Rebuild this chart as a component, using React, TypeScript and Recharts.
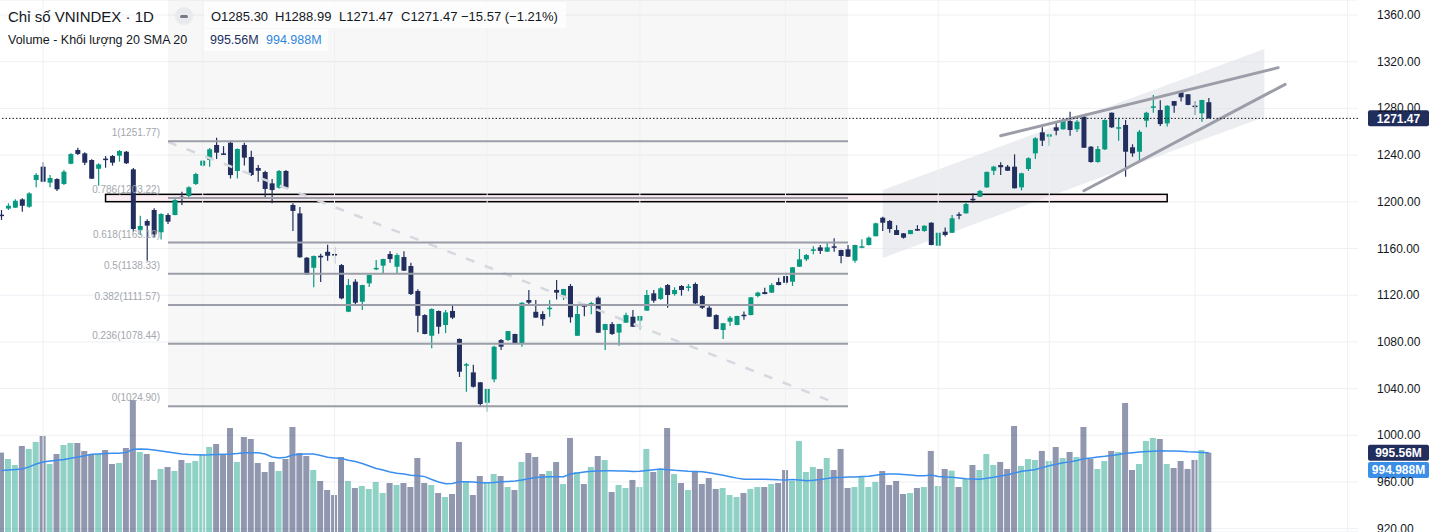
import React from 'react';
import {
  ComposedChart,
  Bar,
  Line,
  XAxis,
  YAxis,
  CartesianGrid,
  ReferenceLine,
  ReferenceArea,
  Cell,
} from 'recharts';

const UP = '#089981';
const DOWN = '#222f5e';
const FONT = '"Liberation Sans", Arial, sans-serif';

// daily candles, oldest first
const opens = [
  1189.0, 1194.2, 1195.0, 1202.1, 1195.8, 1218.7, 1230.1, 1216.4, 1219.5, 1215.3,
  1232.6, 1244.4, 1241.5, 1235.8, 1228.3, 1237.0, 1239.2, 1239.5, 1242.9, 1227.8,
  1176.0, 1183.6, 1193.0, 1173.9, 1188.7, 1188.7, 1204.4, 1205.0, 1215.3, 1231.0,
  1235.8, 1248.7, 1241.5, 1250.6, 1226.4, 1248.7, 1238.4, 1229.0, 1225.5, 1215.8,
  1212.1, 1226.4, 1197.3, 1190.1, 1152.1, 1143.5, 1153.8, 1157.2, 1155.3, 1145.8,
  1105.9, 1131.6, 1114.4, 1130.2, 1142.8, 1145.3, 1155.3, 1144.4, 1152.7, 1145.0,
  1123.6, 1103.0, 1085.3, 1106.5, 1094.5, 1106.5, 1082.5, 1060.4, 1053.9, 1045.4,
  1027.9, 1047.9, 1081.6, 1081.6, 1086.8, 1078.2, 1115.9, 1105.8, 1103.9, 1108.8,
  1124.5, 1119.6, 1127.9, 1085.3, 1112.4, 1111.3, 1117.9, 1090.2, 1095.3, 1088.0,
  1096.5, 1101.6, 1098.2, 1106.8, 1121.6, 1116.8, 1128.7, 1121.0, 1127.9, 1126.9,
  1129.6, 1119.3, 1109.3, 1103.0, 1090.2, 1097.3, 1094.5, 1103.3, 1103.0, 1119.3,
  1122.7, 1122.2, 1131.3, 1136.4, 1131.6, 1144.4, 1150.7, 1158.7, 1161.0, 1157.3,
  1161.9, 1158.7, 1159.3, 1149.6, 1161.3, 1163.0, 1170.5, 1186.4, 1183.6, 1175.8,
  1173.0, 1172.4, 1176.7, 1175.0, 1182.1, 1162.4, 1174.4, 1173.5, 1189.3, 1190.1,
  1202.6, 1204.4, 1212.4, 1226.6, 1231.5, 1230.1, 1230.1, 1212.4, 1228.1, 1241.5,
  1259.5, 1255.8, 1263.8, 1262.1, 1269.2, 1262.1, 1272.9, 1247.2, 1234.1, 1244.9,
  1276.3, 1263.5, 1265.8, 1246.7, 1242.9, 1269.5, 1281.3, 1278.6, 1267.2, 1286.3,
  1293.8, 1292.1, 1282.4, 1275.8, 1285.3,
];

const highs = [
  1193.0, 1198.7, 1202.1, 1203.0, 1208.1, 1224.4, 1233.8, 1223.0, 1220.1, 1227.2,
  1241.5, 1246.3, 1242.4, 1236.4, 1233.0, 1239.2, 1240.1, 1244.4, 1243.5, 1229.0,
  1188.1, 1185.0, 1194.4, 1190.1, 1190.1, 1202.6, 1208.6, 1213.4, 1224.9, 1235.8,
  1246.0, 1254.9, 1247.7, 1252.2, 1245.8, 1250.6, 1243.7, 1231.5, 1226.6, 1219.5,
  1227.2, 1227.2, 1198.7, 1195.6, 1152.7, 1154.0, 1155.5, 1163.2, 1161.4, 1146.8,
  1133.9, 1133.6, 1128.9, 1137.5, 1150.2, 1151.3, 1157.6, 1156.0, 1157.6, 1147.9,
  1125.1, 1103.6, 1108.8, 1107.0, 1107.3, 1111.6, 1083.0, 1061.9, 1060.4, 1045.7,
  1039.9, 1076.8, 1082.5, 1089.4, 1087.0, 1113.9, 1124.5, 1115.9, 1106.2, 1115.9,
  1133.0, 1125.5, 1129.6, 1111.0, 1112.6, 1114.5, 1119.0, 1095.5, 1097.0, 1095.5,
  1105.0, 1107.3, 1102.4, 1124.5, 1124.5, 1126.8, 1129.6, 1126.8, 1128.7, 1129.6,
  1131.0, 1120.2, 1112.1, 1103.6, 1096.3, 1102.1, 1102.4, 1106.1, 1118.5, 1123.0,
  1126.5, 1130.2, 1135.0, 1139.5, 1144.2, 1159.6, 1155.3, 1162.0, 1163.0, 1165.3,
  1168.7, 1158.9, 1163.0, 1163.2, 1168.0, 1170.2, 1182.1, 1187.3, 1184.4, 1180.0,
  1173.2, 1175.9, 1180.0, 1180.0, 1182.4, 1173.6, 1178.0, 1188.7, 1191.0, 1199.2,
  1207.3, 1210.1, 1226.0, 1230.9, 1233.8, 1231.5, 1240.7, 1225.0, 1238.2, 1255.3,
  1263.8, 1258.6, 1267.7, 1271.0, 1277.2, 1270.1, 1273.5, 1247.8, 1247.7, 1270.7,
  1276.4, 1272.0, 1270.1, 1249.3, 1261.5, 1277.2, 1291.5, 1287.0, 1282.8, 1286.4,
  1294.4, 1292.3, 1286.3, 1287.4, 1288.99,
];

const lows = [
  1184.4, 1193.0, 1194.6, 1191.5, 1195.0, 1212.4, 1216.9, 1212.4, 1209.3, 1214.4,
  1232.1, 1240.1, 1231.5, 1219.5, 1213.8, 1229.2, 1231.0, 1234.4, 1232.4, 1174.4,
  1171.6, 1149.6, 1169.6, 1167.8, 1181.0, 1188.4, 1197.3, 1204.1, 1214.4, 1230.1,
  1230.1, 1236.6, 1240.1, 1220.0, 1220.0, 1231.0, 1222.2, 1217.2, 1203.6, 1198.7,
  1211.5, 1211.5, 1175.0, 1152.0, 1137.3, 1126.8, 1131.3, 1149.6, 1147.0, 1116.5,
  1105.5, 1112.5, 1107.3, 1127.0, 1141.4, 1138.2, 1147.9, 1138.5, 1140.8, 1120.2,
  1088.2, 1086.5, 1074.5, 1087.0, 1087.6, 1099.6, 1050.0, 1037.4, 1041.0, 1024.9,
  1020.2, 1045.4, 1073.1, 1080.8, 1078.6, 1075.9, 1111.6, 1100.6, 1093.9, 1101.6,
  1116.4, 1115.9, 1096.5, 1085.0, 1102.0, 1103.6, 1087.6, 1073.1, 1085.9, 1076.8,
  1096.3, 1092.8, 1090.2, 1106.6, 1113.6, 1116.0, 1109.3, 1119.6, 1119.6, 1123.4,
  1111.6, 1108.2, 1101.4, 1090.8, 1082.5, 1093.6, 1094.3, 1099.0, 1102.8, 1118.2,
  1120.8, 1122.0, 1128.5, 1128.7, 1127.9, 1144.2, 1149.3, 1155.0, 1155.3, 1157.0,
  1157.3, 1147.3, 1152.7, 1147.9, 1160.2, 1162.5, 1170.4, 1175.0, 1173.6, 1171.5,
  1168.5, 1172.2, 1175.1, 1174.4, 1162.9, 1162.2, 1170.2, 1173.3, 1185.1, 1189.9,
  1199.3, 1204.2, 1211.8, 1222.9, 1222.9, 1226.4, 1211.4, 1209.8, 1226.4, 1236.6,
  1247.7, 1247.8, 1257.1, 1261.9, 1256.6, 1259.9, 1246.1, 1233.5, 1233.5, 1244.3,
  1263.2, 1252.3, 1221.5, 1238.6, 1235.2, 1263.8, 1276.3, 1264.9, 1264.4, 1276.3,
  1285.9, 1282.8, 1274.4, 1268.6, 1271.47,
];

const closes = [
  1188.4, 1196.6, 1200.9, 1196.6, 1207.2, 1223.0, 1217.2, 1220.4, 1210.7, 1225.8,
  1240.9, 1241.0, 1233.5, 1219.8, 1232.1, 1236.4, 1233.5, 1243.5, 1233.0, 1176.7,
  1179.3, 1179.6, 1172.2, 1189.6, 1183.0, 1201.5, 1203.6, 1212.4, 1223.8, 1235.2,
  1245.0, 1242.1, 1240.7, 1222.9, 1245.2, 1237.8, 1223.0, 1226.6, 1211.0, 1210.1,
  1226.4, 1212.1, 1192.2, 1152.5, 1137.9, 1153.6, 1152.4, 1153.8, 1154.7, 1117.3,
  1128.7, 1113.6, 1128.7, 1137.3, 1143.4, 1151.0, 1151.0, 1154.4, 1141.0, 1121.0,
  1102.4, 1086.8, 1108.2, 1093.0, 1105.3, 1100.8, 1054.5, 1060.9, 1041.6, 1026.8,
  1039.7, 1075.9, 1075.9, 1089.3, 1078.8, 1113.6, 1113.6, 1100.8, 1099.4, 1109.3,
  1122.2, 1125.3, 1101.1, 1103.9, 1110.1, 1113.3, 1087.9, 1095.3, 1086.8, 1095.3,
  1103.0, 1093.0, 1102.2, 1120.2, 1115.3, 1125.9, 1120.2, 1124.5, 1124.5, 1127.5,
  1113.0, 1109.3, 1101.6, 1091.0, 1096.0, 1100.7, 1102.2, 1102.9, 1118.2, 1122.2,
  1121.0, 1128.7, 1128.7, 1130.7, 1143.9, 1150.7, 1154.4, 1159.3, 1158.0, 1161.0,
  1161.4, 1153.6, 1153.0, 1163.0, 1161.9, 1169.3, 1181.6, 1182.1, 1176.7, 1171.6,
  1169.3, 1175.8, 1175.3, 1179.5, 1163.0, 1173.5, 1171.6, 1185.9, 1188.9, 1198.1,
  1202.2, 1209.3, 1225.6, 1230.1, 1229.6, 1226.6, 1211.6, 1224.4, 1237.3, 1254.4,
  1252.4, 1257.8, 1260.9, 1270.1, 1261.5, 1268.6, 1246.3, 1234.1, 1245.2, 1270.1,
  1263.8, 1263.9, 1242.9, 1241.5, 1260.0, 1276.3, 1281.8, 1266.6, 1282.3, 1282.3,
  1289.5, 1283.0, 1282.0, 1287.2, 1271.47,
];

// volume in millions of shares
const volumes = [
  996, 916, 841, 1079, 1042, 1130, 1205, 853, 979, 1092,
  1117, 1117, 1017, 979, 979, 1029, 853, 866, 1054, 1657,
  1004, 979, 653, 791, 816, 766, 904, 866, 891, 979,
  1067, 1104, 979, 1305, 879, 1192, 1167, 866, 753, 879,
  766, 916, 1318, 991, 954, 778, 640, 527, 464, 941,
  640, 552, 577, 540, 628, 489, 615, 590, 615, 565,
  929, 615, 590, 489, 439, 477, 1130, 640, 464, 703,
  615, 728, 703, 565, 527, 879, 991, 941, 728, 766,
  879, 602, 1180, 753, 602, 816, 954, 904, 502, 590,
  552, 653, 565, 1042, 753, 778, 1305, 728, 615, 527,
  766, 602, 678, 540, 552, 464, 439, 489, 540, 565,
  565, 602, 615, 778, 640, 1142, 753, 816, 791, 929,
  778, 1042, 552, 565, 690, 565, 628, 766, 590, 640,
  477, 489, 552, 565, 1017, 577, 791, 770, 565, 665,
  841, 778, 979, 841, 879, 791, 1330, 828, 916, 904,
  1017, 891, 1067, 929, 1004, 941, 1318, 916, 791, 891,
  1017, 1004, 1619, 778, 853, 1142, 1180, 1167, 853, 803,
  891, 791, 904, 1029, 995.56,
];

// 20-day SMA of volume
const volumeSma = [
  771, 778, 783, 791, 817, 853, 879, 891, 900, 909,
  925, 941, 958, 975, 979, 984, 988, 988, 999, 1038,
  1042, 1037, 1028, 1017, 1004, 991, 979, 973, 969, 966,
  968, 974, 976, 979, 985, 993, 995, 993, 979, 941,
  929, 939, 966, 975, 979, 979, 960, 937, 929, 921,
  901, 884, 860, 828, 798, 778, 753, 737, 727, 713,
  707, 695, 659, 628, 607, 610, 630, 631, 628, 619,
  619, 621, 630, 635, 640, 653, 669, 684, 690, 694,
  694, 694, 728, 740, 754, 761, 766, 768, 769, 767,
  764, 758, 762, 773, 782, 789, 782, 774, 768, 762,
  759, 757, 744, 729, 712, 694, 676, 661, 661, 661,
  661, 660, 655, 654, 659, 653, 643, 649, 659, 671,
  683, 685, 689, 690, 695, 701, 712, 724, 727, 728,
  723, 715, 707, 707, 716, 697, 690, 686, 678, 669,
  665, 661, 674, 686, 703, 718, 740, 761, 772, 784,
  808, 832, 851, 870, 880, 897, 919, 930, 941, 950,
  961, 973, 989, 996, 1003, 1009, 1014, 1019, 1018, 1015,
  1012, 1006, 1003, 999, 994.988,
];

const priceTicks = [920, 960, 1000, 1040, 1080, 1120, 1160, 1200, 1240, 1280, 1320, 1360];

const fibLevels = [
  { text: '1(1251.77)', value: 1251.77 },
  { text: '0.786(1203.22)', value: 1203.22 },
  { text: '0.618(1165.10)', value: 1165.1 },
  { text: '0.5(1138.33)', value: 1138.33 },
  { text: '0.382(1111.57)', value: 1111.57 },
  { text: '0.236(1078.44)', value: 1078.44 },
  { text: '0(1024.90)', value: 1024.9 },
];

// candle index of each month boundary
const monthStarts = [6, 29, 48, 70, 92, 113, 135, 151, 172, 194];

const SLOTS = 196;
const WIDTH = 1437;
const HEIGHT = 532;
const AXIS_W = 79;
const HALF_BAND = (WIDTH + 2 - AXIS_W) / SLOTS / 2;

const rows = Array.from({ length: SLOTS }, (_, i) =>
  i < opens.length
    ? {
        i,
        open: opens[i],
        high: highs[i],
        low: lows[i],
        close: closes[i],
        range: [lows[i], highs[i]],
        vol: volumes[i],
        sma: volumeSma[i],
      }
    : { i }
);

const Candle = (props: any) => {
  const { x, y, width, height, payload } = props;
  if (payload == null || payload.open == null || x == null) return <g />;
  const top = Math.min(y, y + height);
  const h = Math.abs(height);
  const { open, high, low, close } = payload;
  const span = high - low || 1;
  const toY = (v: number) => top + ((high - v) / span) * h;
  const color = close >= open ? UP : DOWN;
  const yo = toY(open);
  const yc = toY(close);
  const cx = x + width / 2;
  return (
    <g>
      <line x1={cx} x2={cx} y1={top} y2={top + h} stroke={color} strokeWidth={1.2} />
      <rect x={x} y={Math.min(yo, yc)} width={width} height={Math.max(Math.abs(yo - yc), 1.5)} fill={color} />
    </g>
  );
};

// shift a band-aligned rectangle so it runs from candle centre to candle centre
const centredRect = (fill: string, opacity: number, stroke?: string) => (p: any) => {
  if (!p || p.x == null) return <g />;
  return (
    <rect
      x={p.x + HALF_BAND}
      y={p.y}
      width={Math.max(p.width - 2 * HALF_BAND, 0)}
      height={p.height}
      fill={fill}
      fillOpacity={opacity}
      stroke={stroke || 'none'}
      strokeWidth={1.5}
    />
  );
};

// parallel channel: corners given as prices, mapped inside the area's own rect
const CH_TOP = 1330.9;
const CH_BOTTOM = 1151.9;
const Channel = (p: any) => {
  if (!p || p.x == null) return <g />;
  const toY = (v: number) => p.y + ((CH_TOP - v) / (CH_TOP - CH_BOTTOM)) * p.height;
  const xl = p.x + HALF_BAND;
  const xr = p.x + p.width - HALF_BAND;
  const pts = [
    [xl, toY(1210.1)],
    [xr, toY(1330.9)],
    [xr, toY(1272.6)],
    [xl, toY(1151.9)],
  ];
  return <polygon points={pts.map((q) => q.join(',')).join(' ')} fill="#dfe1e8" fillOpacity={0.6} />;
};

const FibLabel = (props: any) => {
  const vb = props.viewBox;
  if (!vb || vb.x == null) return null;
  return (
    <text x={vb.x - 8} y={vb.y - 5} textAnchor="end" fontSize={10} fill="#a3a6ae" fontFamily={FONT}>
      {props.text}
    </text>
  );
};

const Tag = (props: any) => {
  const vb = props.viewBox;
  if (!vb || vb.x == null) return null;
  const x = vb.x + vb.width + 10;
  const y = vb.y + (props.dy || 0);
  return (
    <g>
      <rect x={x} y={y - 8} width={61} height={16} rx={2} fill={props.bg} />
      <text x={x + 30.5} y={y + 4.3} textAnchor="middle" fill="#ffffff" fontSize={12} fontWeight={700} fontFamily={FONT}>
        {props.text}
      </text>
    </g>
  );
};

const PriceTick = (props: any) => {
  const { x, y, payload } = props;
  if (!payload) return null;
  return (
    <text x={x} y={y + 4} fontSize={12} fill="#131722" fontFamily={FONT}>
      {Number(payload.value).toFixed(2)}
    </text>
  );
};

const legendText: React.CSSProperties = {
  position: 'absolute',
  fontFamily: FONT,
  whiteSpace: 'nowrap',
  lineHeight: 1,
};

const App: React.FC = () => {
  return (
    <div style={{ position: 'relative', width: WIDTH, height: HEIGHT, background: '#ffffff', overflow: 'hidden' }}>
      <style>{'body{margin:0}'}</style>
      <ComposedChart width={WIDTH} height={HEIGHT} data={rows} margin={{ top: 0, right: 0, bottom: 0, left: -2 }}>
        <XAxis xAxisId="c" dataKey="i" hide />
        <XAxis xAxisId="v" dataKey="i" hide />
        <YAxis
          yAxisId="p"
          orientation="right"
          width={AXIS_W}
          domain={[917.2, 1372.85]}
          allowDataOverflow
          ticks={priceTicks}
          interval={0}
          axisLine={false}
          tickLine={false}
          tickSize={0}
          tickMargin={19}
          tick={<PriceTick />}
        />
        <YAxis yAxisId="v" hide domain={[0, 6676]} allowDataOverflow />

        <ReferenceArea
          xAxisId="c"
          yAxisId="p"
          x1={24}
          x2={122}
          y1={1023.5}
          y2={1372.85}
          shape={centredRect('#000000', 0.03)}
        />
        <CartesianGrid xAxisId="c" yAxisId="p" vertical={false} stroke="#eef0f4" />
        {monthStarts.map((m) => (
          <ReferenceLine key={`m-${m}`} xAxisId="c" yAxisId="p" x={m} stroke="#eef0f4" />
        ))}

        <ReferenceArea xAxisId="c" yAxisId="p" x1={127} x2={182} y1={CH_BOTTOM} y2={CH_TOP} shape={Channel} />
        <ReferenceLine
          xAxisId="c"
          yAxisId="p"
          segment={[{ x: 24, y: 1251.3 }, { x: 120, y: 1028.2 }]}
          stroke="#d6d8e0"
          strokeWidth={2.5}
          strokeDasharray="9 11"
        />
        <ReferenceArea
          xAxisId="c"
          yAxisId="p"
          x1={15}
          x2={168}
          y1={1200.1}
          y2={1206.4}
          shape={centredRect('#f6d9e5', 0.45, '#000000')}
        />
        {fibLevels.map((f) => (
          <ReferenceLine
            key={f.text}
            xAxisId="c"
            yAxisId="p"
            segment={[{ x: 24, y: f.value }, { x: 122, y: f.value }]}
            stroke="#9b9ea8"
            strokeWidth={2}
            label={<FibLabel text={f.text} />}
          />
        ))}

        <Bar xAxisId="v" yAxisId="v" dataKey="vol" barSize={6} isAnimationActive={false}>
          {rows.map((r: any) => (
            <Cell
              key={`v-${r.i}`}
              fill={r.close >= r.open ? UP : DOWN}
              fillOpacity={r.close >= r.open ? 0.45 : 0.5}
            />
          ))}
        </Bar>
        <Line
          xAxisId="v"
          yAxisId="v"
          dataKey="sma"
          stroke="#3a8ef0"
          strokeWidth={1.5}
          dot={false}
          activeDot={false}
          isAnimationActive={false}
        />
        <Bar xAxisId="c" yAxisId="p" dataKey="range" barSize={5} shape={<Candle />} isAnimationActive={false} />

        <ReferenceLine
          xAxisId="c"
          yAxisId="p"
          segment={[{ x: 144, y: 1256.6 }, { x: 184, y: 1314.9 }]}
          stroke="#9b9ea8"
          strokeWidth={3}
          strokeLinecap="round"
        />
        <ReferenceLine
          xAxisId="c"
          yAxisId="p"
          segment={[{ x: 156, y: 1209.5 }, { x: 185, y: 1300.6 }]}
          stroke="#9b9ea8"
          strokeWidth={3}
          strokeLinecap="round"
        />
        <ReferenceLine
          xAxisId="c"
          yAxisId="p"
          y={1271.47}
          stroke="#131722"
          strokeDasharray="1.5 2"
          label={<Tag text="1271.47" bg="#212d5b" />}
        />
        <ReferenceLine
          xAxisId="v"
          yAxisId="v"
          y={995.56}
          stroke="none"
          label={<Tag text="995.56M" bg="#212d5b" />}
        />
        <ReferenceLine
          xAxisId="v"
          yAxisId="v"
          y={994.988}
          stroke="none"
          label={<Tag text="994.988M" bg="#3a8ee6" dy={17.4} />}
        />
      </ComposedChart>

      <div style={{ position: 'absolute', left: 204, top: 2, width: 362, height: 26, background: 'rgba(255,255,255,0.75)' }} />
      <div style={{ position: 'absolute', left: 204, top: 29, width: 124, height: 22, background: 'rgba(255,255,255,0.75)' }} />

      <div style={{ ...legendText, left: 8, top: 9, fontSize: 15, color: '#131722' }}>Chỉ số VNINDEX · 1D</div>
      <div
        style={{
          position: 'absolute',
          left: 175,
          top: 7,
          width: 18,
          height: 18,
          borderRadius: 9,
          background: '#e9eaee',
        }}
      >
        <div style={{ position: 'absolute', left: 5, top: 7.5, width: 8, height: 3, borderRadius: 1.5, background: '#787b86' }} />
      </div>
      <div style={{ ...legendText, left: 211, top: 10, fontSize: 13, color: '#131722' }}>O1285.30</div>
      <div style={{ ...legendText, left: 275, top: 10, fontSize: 13, color: '#131722' }}>H1288.99</div>
      <div style={{ ...legendText, left: 339, top: 10, fontSize: 13, color: '#131722' }}>L1271.47</div>
      <div style={{ ...legendText, left: 401, top: 10, fontSize: 13, color: '#131722' }}>C1271.47</div>
      <div style={{ ...legendText, left: 461, top: 10, fontSize: 13, color: '#131722' }}>−15.57 (−1.21%)</div>

      <div style={{ ...legendText, left: 8, top: 34, fontSize: 12.5, color: '#131722' }}>Volume - Khối lượng 20 SMA 20</div>
      <div style={{ ...legendText, left: 210, top: 34, fontSize: 12.5, color: DOWN }}>995.56M</div>
      <div style={{ ...legendText, left: 266, top: 34, fontSize: 12.5, color: '#2f86e0' }}>994.988M</div>
    </div>
  );
};

export default App;
